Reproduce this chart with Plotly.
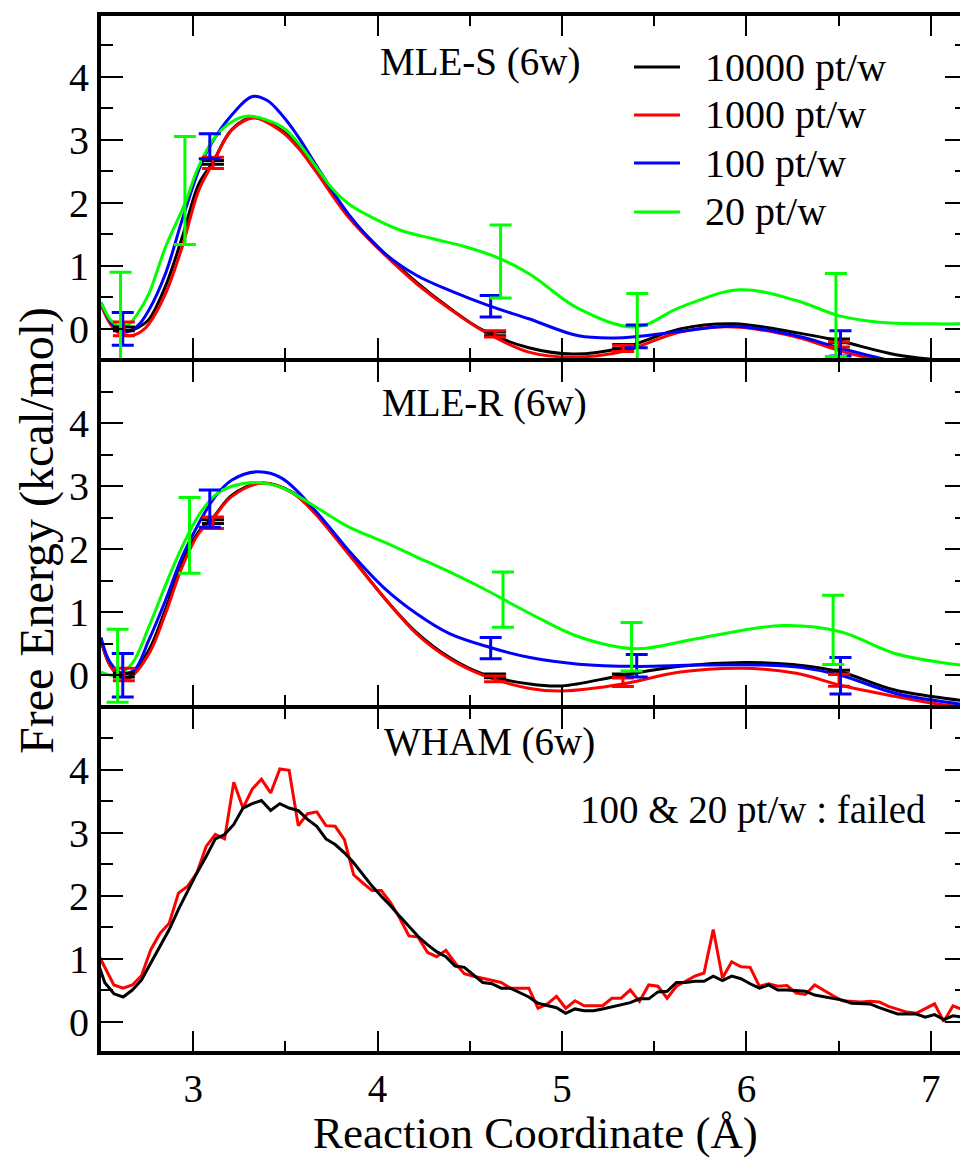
import plotly.graph_objects as go

FONT = "Liberation Serif"
NAMES = ["10000 pt/w", "1000 pt/w", "100 pt/w", "20 pt/w"]
COLORS = ["#000000", "#ff0000", "#0000ff", "#00ff00"]

# ---------------- MLE-S (6w) curves ----------------
mles_black_x = [2.5, 2.55, 2.6, 2.65, 2.7, 2.76, 2.85, 2.94, 3.03, 3.107, 3.21, 3.33, 3.48, 3.57, 3.66, 3.84, 4.03, 4.21, 4.39, 4.57, 4.82, 5.06, 5.33, 5.64, 5.93, 6.27, 6.5, 6.81, 7.05, 7.2]
mles_black_y = [0.40, 0.12, 0.0, -0.03, 0.02, 0.15, 0.68, 1.45, 2.30, 2.65, 3.17, 3.36, 3.15, 2.90, 2.55, 1.80, 1.22, 0.74, 0.33, -0.02, -0.30, -0.40, -0.30, 0.0, 0.08, -0.06, -0.19, -0.41, -0.50, -0.55]
mles_red_x = [2.5, 2.55, 2.6, 2.66, 2.72, 2.76, 2.85, 2.94, 3.03, 3.107, 3.21, 3.33, 3.48, 3.57, 3.66, 3.84, 4.03, 4.21, 4.39, 4.57, 4.82, 5.06, 5.33, 5.64, 5.93, 6.27, 6.507, 6.72, 7.0, 7.2]
mles_red_y = [0.38, 0.08, -0.07, -0.11, -0.04, 0.08, 0.56, 1.30, 2.20, 2.63, 3.16, 3.35, 3.13, 2.87, 2.52, 1.78, 1.20, 0.72, 0.32, -0.03, -0.37, -0.45, -0.36, -0.05, 0.03, -0.13, -0.35, -0.50, -0.62, -0.68]
mles_blue_x = [2.5, 2.55, 2.6, 2.64, 2.7, 2.76, 2.85, 2.94, 3.03, 3.09, 3.21, 3.32, 3.40, 3.48, 3.57, 3.66, 3.84, 4.03, 4.21, 4.39, 4.61, 4.82, 5.09, 5.33, 5.64, 5.93, 6.27, 6.5, 6.77, 7.0, 7.2]
mles_blue_y = [0.42, 0.12, -0.02, -0.05, 0.05, 0.30, 0.88, 1.73, 2.52, 2.90, 3.40, 3.69, 3.63, 3.40, 3.05, 2.63, 1.83, 1.22, 0.85, 0.61, 0.36, 0.16, -0.11, -0.14, -0.04, 0.04, -0.11, -0.30, -0.50, -0.65, -0.72]
mles_green_x = [2.5, 2.55, 2.6, 2.65, 2.7, 2.76, 2.85, 2.955, 3.03, 3.12, 3.21, 3.30, 3.48, 3.57, 3.66, 3.75, 3.84, 3.93, 4.12, 4.30, 4.48, 4.66, 4.83, 5.09, 5.40, 5.64, 5.96, 6.27, 6.5, 6.72, 7.0, 7.2]
mles_green_y = [0.42, 0.15, 0.04, 0.07, 0.25, 0.56, 1.30, 1.99, 2.58, 3.05, 3.29, 3.38, 3.21, 2.95, 2.60, 2.24, 1.99, 1.83, 1.57, 1.43, 1.30, 1.12, 0.86, 0.32, 0.03, 0.34, 0.62, 0.45, 0.21, 0.105, 0.08, 0.08]

# MLE-S error bars (x, value, error)
mles_bar_black = ([2.624, 3.107, 4.637, 5.332, 6.502], [0.0, 2.645, -0.08, -0.28, -0.19], [0.03, 0.03, 0.03, 0.03, 0.03])
mles_bar_red = ([2.624, 3.107, 4.637, 5.332, 6.502], [0.0, 2.635, -0.08, -0.31, -0.25], [0.11, 0.09, 0.05, 0.05, 0.04])
mles_bar_blue = ([2.618, 3.09, 4.613, 5.405, 6.51], [0.0, 2.90, 0.36, -0.12, -0.23], [0.26, 0.20, 0.17, 0.18, 0.20])
mles_bar_green = ([2.606, 2.955, 4.667, 5.408, 6.485], [0.20, 2.197, 1.07, 0.02, 0.22], [0.70, 0.858, 0.58, 0.54, 0.66])

# ---------------- MLE-R (6w) curves ----------------
mler_black_x = [2.5, 2.55, 2.6, 2.65, 2.76, 2.85, 2.94, 3.03, 3.107, 3.21, 3.37, 3.54, 3.66, 3.84, 4.03, 4.21, 4.39, 4.57, 4.826, 5.0, 5.33, 5.64, 5.99, 6.25, 6.51, 6.81, 7.16, 7.2]
mler_black_y = [0.55, 0.15, 0.0, -0.03, 0.40, 1.05, 1.78, 2.28, 2.50, 2.86, 3.05, 2.90, 2.58, 1.95, 1.25, 0.68, 0.28, 0.02, -0.14, -0.17, 0.0, 0.14, 0.20, 0.17, 0.05, -0.24, -0.40, -0.42]
mler_red_x = [2.5, 2.55, 2.6, 2.65, 2.76, 2.85, 2.94, 3.03, 3.107, 3.21, 3.37, 3.54, 3.66, 3.84, 4.03, 4.21, 4.39, 4.57, 4.826, 5.0, 5.33, 5.64, 5.98, 6.27, 6.51, 6.81, 7.0, 7.2]
mler_red_y = [0.55, 0.15, -0.02, -0.05, 0.34, 0.98, 1.72, 2.25, 2.49, 2.84, 3.05, 2.89, 2.57, 1.93, 1.25, 0.66, 0.26, 0.0, -0.21, -0.25, -0.14, 0.05, 0.11, 0.03, -0.16, -0.34, -0.44, -0.52]
mler_blue_x = [2.5, 2.55, 2.615, 2.68, 2.76, 2.85, 2.94, 3.03, 3.12, 3.21, 3.35, 3.48, 3.66, 3.84, 4.03, 4.21, 4.39, 4.61, 4.826, 5.09, 5.4, 5.73, 6.09, 6.3, 6.51, 6.81, 7.16, 7.2]
mler_blue_y = [0.60, 0.20, 0.03, 0.08, 0.56, 1.19, 1.88, 2.41, 2.84, 3.10, 3.23, 3.13, 2.62, 1.99, 1.40, 0.98, 0.66, 0.44, 0.28, 0.175, 0.14, 0.16, 0.16, 0.12, 0.0, -0.29, -0.46, -0.48]
mler_green_x = [2.5, 2.56, 2.6, 2.67, 2.76, 2.85, 2.94, 3.03, 3.12, 3.21, 3.34, 3.48, 3.66, 3.84, 4.03, 4.21, 4.39, 4.57, 4.826, 5.09, 5.4, 5.73, 6.2, 6.51, 6.81, 7.16, 7.2]
mler_green_y = [0.05, 0.0, 0.02, 0.19, 0.77, 1.43, 2.04, 2.54, 2.86, 3.0, 3.06, 2.98, 2.68, 2.36, 2.12, 1.88, 1.64, 1.38, 0.98, 0.61, 0.42, 0.58, 0.79, 0.69, 0.34, 0.16, 0.15]

mler_bar_black = ([2.624, 3.107, 4.637, 5.33, 6.502], [0.0, 2.44, -0.01, -0.01, 0.05], [0.03, 0.03, 0.03, 0.03, 0.03])
mler_bar_red = ([2.624, 3.107, 4.637, 5.33, 6.502], [0.01, 2.42, -0.06, -0.11, -0.08], [0.10, 0.09, 0.045, 0.07, 0.095])
mler_bar_blue = ([2.618, 3.09, 4.613, 5.405, 6.51], [0.0, 2.645, 0.43, 0.15, -0.01], [0.345, 0.295, 0.17, 0.18, 0.29])
mler_bar_green = ([2.59, 2.98, 4.68, 5.377, 6.47], [0.15, 2.22, 1.20, 0.45, 0.72], [0.58, 0.60, 0.44, 0.385, 0.55])

# ---------------- WHAM (6w) histogram curves ----------------
wham_x = [2.47, 2.52, 2.57, 2.62, 2.67, 2.72, 2.77, 2.82, 2.87, 2.92, 2.97,
          3.02, 3.07, 3.12, 3.17, 3.22, 3.27, 3.32, 3.37, 3.42, 3.47,
          3.52, 3.57, 3.62, 3.67, 3.72, 3.77, 3.82, 3.87, 3.92, 3.97,
          4.02, 4.07, 4.12, 4.17, 4.22, 4.27, 4.32, 4.37, 4.42, 4.47,
          4.52, 4.57, 4.62, 4.67, 4.72, 4.77, 4.82, 4.87, 4.92, 4.97,
          5.02, 5.07, 5.12, 5.17, 5.22, 5.27, 5.32, 5.37, 5.42, 5.47,
          5.52, 5.57, 5.62, 5.67, 5.72, 5.77, 5.82, 5.87, 5.92, 5.97,
          6.02, 6.07, 6.12, 6.17, 6.22, 6.27, 6.32, 6.37, 6.42, 6.47,
          6.52, 6.57, 6.62, 6.67, 6.72, 6.77, 6.82, 6.87, 6.92, 6.97,
          7.02, 7.07, 7.12, 7.17]
wham_red = [1.15, 0.87, 0.58, 0.53, 0.58, 0.73, 1.14, 1.40, 1.56, 2.04, 2.15,
            2.36, 2.78, 2.97, 2.90, 3.80, 3.39, 3.69, 3.85, 3.63, 4.01,
            3.99, 3.11, 3.30, 3.33, 3.11, 3.10, 2.89, 2.33, 2.20, 2.08,
            2.08, 1.89, 1.64, 1.36, 1.34, 1.10, 1.03, 1.13, 0.93, 0.76,
            0.72, 0.69, 0.66, 0.62, 0.53, 0.53, 0.53, 0.21, 0.28, 0.40,
            0.21, 0.33, 0.25, 0.25, 0.25, 0.37, 0.37, 0.50, 0.32, 0.58,
            0.56, 0.37, 0.56, 0.64, 0.72, 0.77, 1.46, 0.69, 0.95, 0.87,
            0.86, 0.56, 0.60, 0.56, 0.57, 0.45, 0.43, 0.58, 0.49, 0.41,
            0.33, 0.32, 0.31, 0.32, 0.31, 0.24, 0.19, 0.15, 0.13, 0.21,
            0.28, 0.00, 0.25, 0.19]
wham_black = [1.05, 0.62, 0.44, 0.39, 0.50, 0.66, 0.93, 1.19, 1.46, 1.78, 2.07,
              2.36, 2.62, 2.90, 2.97, 3.13, 3.39, 3.46, 3.51, 3.35, 3.46,
              3.39, 3.35, 3.21, 3.10, 2.90, 2.81, 2.68, 2.52, 2.33, 2.15,
              1.99, 1.84, 1.67, 1.51, 1.35, 1.22, 1.11, 1.03, 0.88, 0.86,
              0.74, 0.62, 0.60, 0.53, 0.53, 0.46, 0.39, 0.29, 0.25, 0.22,
              0.13, 0.20, 0.17, 0.17, 0.20, 0.23, 0.26, 0.30, 0.36, 0.36,
              0.47, 0.48, 0.62, 0.62, 0.64, 0.64, 0.72, 0.65, 0.72, 0.68,
              0.60, 0.53, 0.58, 0.50, 0.50, 0.49, 0.48, 0.42, 0.39, 0.36,
              0.34, 0.29, 0.28, 0.28, 0.22, 0.17, 0.12, 0.12, 0.12, 0.07,
              0.11, 0.03, 0.09, 0.07]

# axis ticks
x_major = [3, 4, 5, 6, 7]
x_minor = [3.5, 4.5, 5.5, 6.5]
y_major = [0, 1, 2, 3, 4]
y_minor = [0.5, 1.5, 2.5, 3.5, 4.5]
X_RANGE = [2.5, 7.158]
Y_RANGE = [-0.5, 5.0]

panel_labels = ["MLE-S (6w)", "MLE-R (6w)", "WHAM (6w)"]
wham_note = "100 & 20 pt/w : failed"
x_title = "Reaction Coordinate (Å)"
y_title = "Free Energy (kcal/mol)"

fig = go.Figure()

def add_curves(xs_ys, xa, ya):
    for (xs, ys), col in zip(xs_ys, COLORS):
        fig.add_trace(go.Scatter(x=xs, y=ys, mode="lines", xaxis=xa, yaxis=ya,
                                 line=dict(color=col, width=3, shape="spline", smoothing=1.0),
                                 showlegend=False, hoverinfo="skip"))

def add_bars(bars, xa, ya):
    for (bx, by, be), col in zip(bars, COLORS):
        fig.add_trace(go.Scatter(x=bx, y=by, mode="markers", xaxis=xa, yaxis=ya,
                                 marker=dict(size=1, color=col),
                                 error_y=dict(type="data", array=be, visible=True,
                                              color=col, thickness=3, width=11),
                                 showlegend=False, hoverinfo="skip"))

# Panel 1: MLE-S
add_curves([(mles_black_x, mles_black_y), (mles_red_x, mles_red_y),
            (mles_blue_x, mles_blue_y), (mles_green_x, mles_green_y)], "x", "y")
add_bars([mles_bar_black, mles_bar_red, mles_bar_blue, mles_bar_green], "x", "y")
# Panel 2: MLE-R
add_curves([(mler_black_x, mler_black_y), (mler_red_x, mler_red_y),
            (mler_blue_x, mler_blue_y), (mler_green_x, mler_green_y)], "x2", "y2")
add_bars([mler_bar_black, mler_bar_red, mler_bar_blue, mler_bar_green], "x2", "y2")
# Panel 3: WHAM
fig.add_trace(go.Scatter(x=wham_x, y=wham_red, mode="lines", xaxis="x3", yaxis="y3",
                         line=dict(color=COLORS[1], width=3), showlegend=False, hoverinfo="skip"))
fig.add_trace(go.Scatter(x=wham_x, y=wham_black, mode="lines", xaxis="x3", yaxis="y3",
                         line=dict(color=COLORS[0], width=3), showlegend=False, hoverinfo="skip"))

# empty traces so the right-hand tick axes are drawn
for xa, ya in [("x", "y4"), ("x2", "y5"), ("x3", "y6")]:
    fig.add_trace(go.Scatter(x=[None], y=[None], mode="lines", xaxis=xa, yaxis=ya,
                             showlegend=False, hoverinfo="skip"))

domains = [[2/3, 1.0], [1/3, 2/3], [0.0, 1/3]]
ytickfont = dict(family=FONT, size=40, color="black")
xtickfont = dict(family=FONT, size=39, color="black")

layout = dict(
    width=960, height=1159,
    margin=dict(l=101, r=0, t=14, b=106, pad=0),
    paper_bgcolor="white", plot_bgcolor="white",
    showlegend=False,
    font=dict(family=FONT, color="black"),
)
for i in range(3):
    sfx = "" if i == 0 else str(i + 1)
    layout["xaxis" + sfx] = dict(
        domain=[0, 1], anchor="y" + sfx, range=X_RANGE, showgrid=False, zeroline=False,
        showline=True, linewidth=2, linecolor="black", mirror="ticks",
        ticks="inside", ticklen=22, tickwidth=2, tickcolor="black",
        tickmode="array", tickvals=x_major, ticktext=[str(v) for v in x_major],
        showticklabels=(i == 2), tickfont=xtickfont,
        minor=dict(tickmode="array", tickvals=x_minor, ticks="inside", ticklen=12,
                   tickwidth=2, tickcolor="black", showgrid=False),
    )
    layout["yaxis" + sfx] = dict(
        domain=domains[i], anchor="x" + sfx, range=Y_RANGE, showgrid=False, zeroline=False,
        showline=True, linewidth=4, linecolor="black", mirror=False,
        ticks="inside", ticklen=22, tickwidth=2, tickcolor="black",
        tickmode="array", tickvals=y_major, ticktext=[str(v) for v in y_major],
        tickfont=ytickfont,
        minor=dict(tickmode="array", tickvals=y_minor, ticks="inside", ticklen=12,
                   tickwidth=2, tickcolor="black", showgrid=False),
    )
    layout["yaxis" + str(i + 4)] = dict(
        domain=domains[i], anchor="x" + sfx, overlaying="y" + sfx, side="right",
        range=Y_RANGE, showgrid=False, zeroline=False, showline=False,
        ticks="inside", ticklen=15, tickwidth=2, tickcolor="black",
        tickmode="array", tickvals=y_major, showticklabels=False,
        minor=dict(tickmode="array", tickvals=y_minor, ticks="inside", ticklen=5,
                   tickwidth=2, tickcolor="black", showgrid=False),
    )

fig.update_layout(**layout)

# geometry helpers (pixel -> paper)
PL, PT, PW, PH = 101, 14, 859, 1039
def px(xp):
    return (xp - PL) / PW
def py(yp):
    return (PT + PH - yp) / PH

lab_font = dict(family=FONT, size=39, color="black")
annotations = [
    dict(text=panel_labels[0], x=px(378), y=py(62), xref="paper", yref="paper",
         xanchor="left", yanchor="middle", showarrow=False, font=lab_font),
    dict(text=panel_labels[1], x=px(380), y=py(403), xref="paper", yref="paper",
         xanchor="left", yanchor="middle", showarrow=False, font=lab_font),
    dict(text=panel_labels[2], x=px(382), y=py(742), xref="paper", yref="paper",
         xanchor="left", yanchor="middle", showarrow=False, font=lab_font),
    dict(text=wham_note, x=px(578), y=py(810), xref="paper", yref="paper",
         xanchor="left", yanchor="middle", showarrow=False, font=lab_font),
    dict(text=x_title, x=px(535), y=py(1133), xref="paper", yref="paper",
         xanchor="center", yanchor="middle", showarrow=False, borderpad=0,
         font=dict(family=FONT, size=45, color="black")),
    dict(text=y_title, x=px(37), y=py(531), xref="paper", yref="paper", textangle=-90,
         xanchor="center", yanchor="middle", showarrow=False,
         font=dict(family=FONT, size=48, color="black")),
]
# manual legend (inside top panel)
legend_rows_y = [67, 115, 163, 212]
shapes = []
for name, col, ly in zip(NAMES, COLORS, legend_rows_y):
    shapes.append(dict(type="line", xref="paper", yref="paper",
                       x0=px(634), x1=px(680), y0=py(ly), y1=py(ly),
                       line=dict(color=col, width=3)))
    annotations.append(dict(text=name, x=px(703), y=py(ly), xref="paper", yref="paper",
                            xanchor="left", yanchor="middle", showarrow=False,
                            font=dict(family=FONT, size=40, color="black")))
# thicker outer frame edges (top of upper panel, bottom of lower panel)
for yy in (0.0, 1.0):
    shapes.append(dict(type="line", xref="paper", yref="paper", x0=0, x1=1, y0=yy, y1=yy,
                       line=dict(color="black", width=4)))

fig.update_layout(annotations=annotations, shapes=shapes)
fig.write_html("out.html")
